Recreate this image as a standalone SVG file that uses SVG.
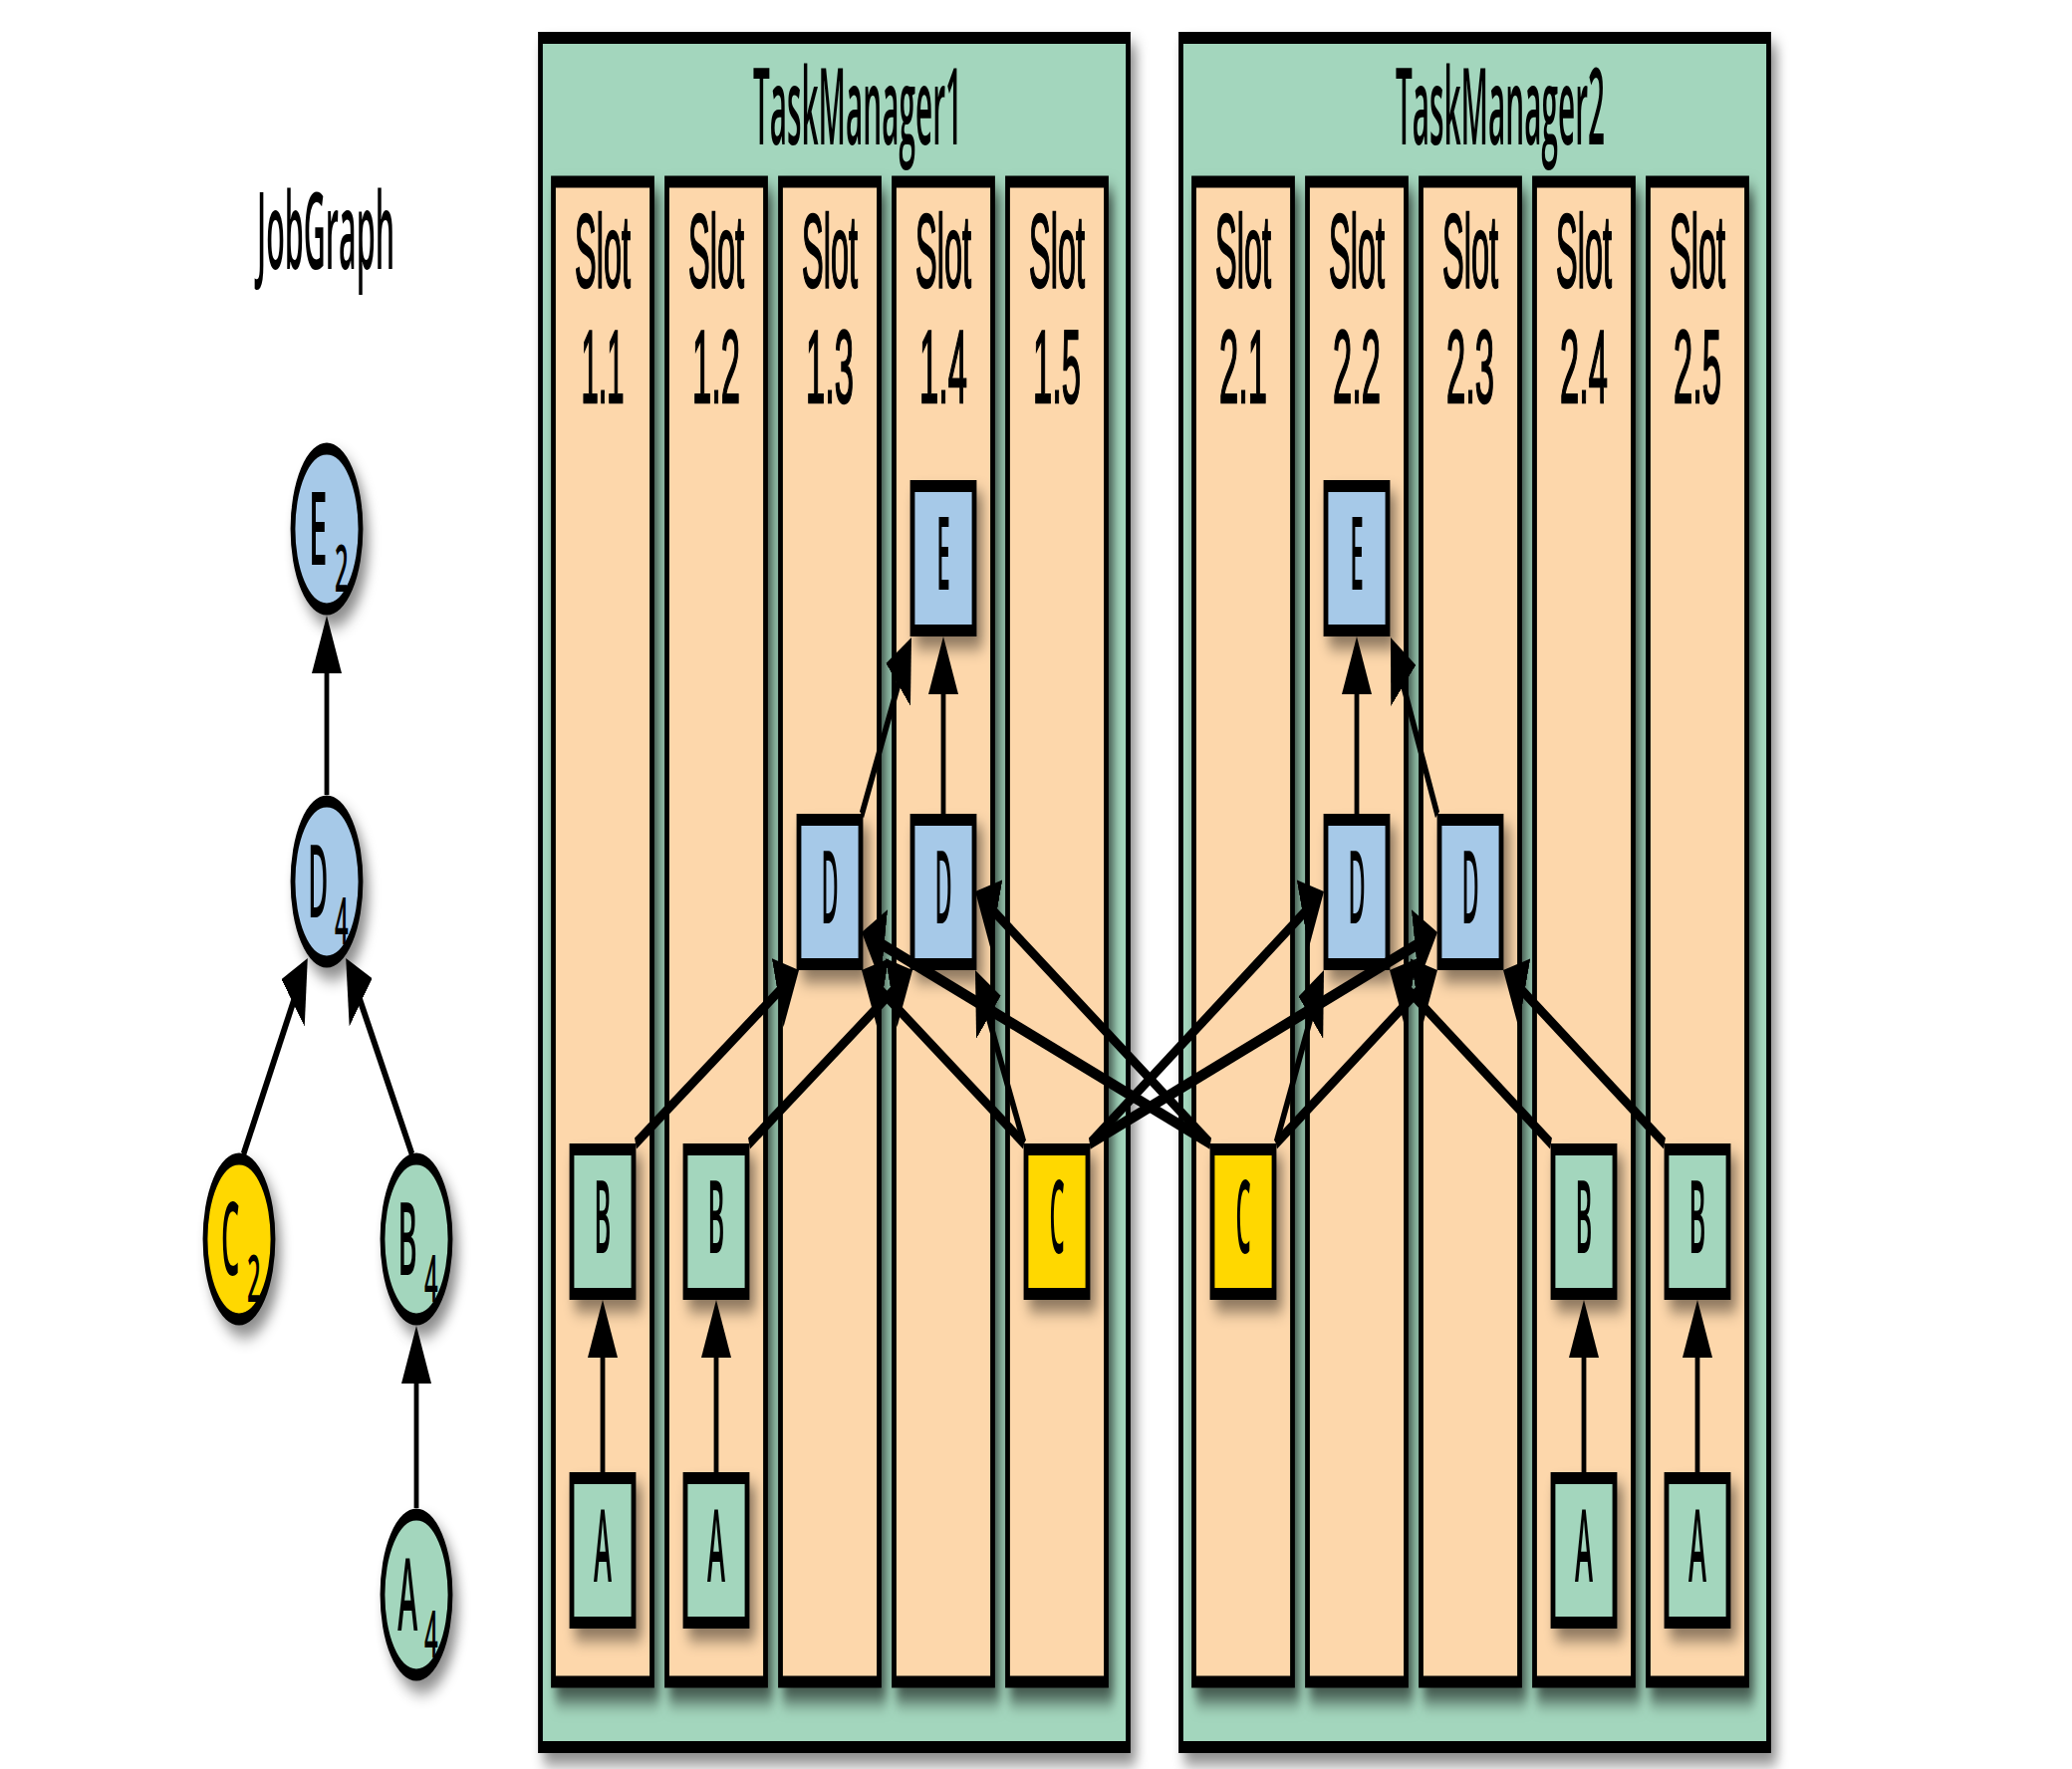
<svg xmlns="http://www.w3.org/2000/svg" width="2080" height="1776" viewBox="0 0 2080 1776">
<defs>
<style>
.tm{fill:#a3d6bd;stroke:#000;stroke-width:12}
.slot{fill:#fdd7ab;stroke:#000;stroke-width:12}
.nb{fill:#a6c9e8;stroke:#000;stroke-width:12}
.ng{fill:#a3d6bd;stroke:#000;stroke-width:12}
.ny{fill:#ffd800;stroke:#000;stroke-width:12}
.sh{filter:url(#sh)}
.sh2{filter:url(#sh2)}
text{font-family:"Open Sans","Liberation Sans",sans-serif;font-weight:600;fill:#000;text-anchor:middle}
.t{font-size:107px}
.sl{font-family:"Liberation Sans",Arial,sans-serif;font-weight:400;font-size:104px;stroke:#000;stroke-width:2.5}
.l{font-size:102px}
.s{font-size:66px}
.e{fill:none;stroke:#000;stroke-width:12;marker-end:url(#ah)}
</style>
<filter id="sh" x="-50%" y="-20%" width="200%" height="150%">
<feDropShadow dx="14" dy="12" stdDeviation="14 8" flood-color="#000" flood-opacity="0.45"/>
</filter>
<filter id="sh2" x="-50%" y="-20%" width="200%" height="150%">
<feDropShadow dx="12" dy="14" stdDeviation="12 9" flood-color="#000" flood-opacity="0.6"/>
</filter>
<marker id="ah" viewBox="0 -37.5 58 75" refX="18" refY="0" markerWidth="58" markerHeight="75" markerUnits="userSpaceOnUse" orient="auto">
<path d="M0,-37.5 L58,0 L0,37.5 z" fill="#000"/>
</marker>
</defs>
<rect width="2080" height="1776" fill="#fff"/>
<g transform="scale(0.4,1)">
<text class="t" x="817.5" y="270" textLength="345" lengthAdjust="spacingAndGlyphs">JobGraph</text>

<g id="tm1">
<rect class="tm sh" x="1356.25" y="38" width="1475" height="1716"/>
<text class="t" x="2152.5" y="145" textLength="525" lengthAdjust="spacingAndGlyphs">TaskManager1</text>
<g id="slot1-1"><rect class="slot sh2" x="1388.75" y="182.5" width="247.5" height="1506"/><text class="sl" x="1512.5" y="288" textLength="140" lengthAdjust="spacingAndGlyphs">Slot</text><text class="sl" x="1512.5" y="404" textLength="108" lengthAdjust="spacingAndGlyphs">1.1</text></g>
<g id="slot1-2"><rect class="slot sh2" x="1673.75" y="182.5" width="247.5" height="1506"/><text class="sl" x="1797.5" y="288" textLength="140" lengthAdjust="spacingAndGlyphs">Slot</text><text class="sl" x="1797.5" y="404" textLength="120" lengthAdjust="spacingAndGlyphs">1.2</text></g>
<g id="slot1-3"><rect class="slot sh2" x="1958.75" y="182.5" width="247.5" height="1506"/><text class="sl" x="2082.5" y="288" textLength="140" lengthAdjust="spacingAndGlyphs">Slot</text><text class="sl" x="2082.5" y="404" textLength="120" lengthAdjust="spacingAndGlyphs">1.3</text></g>
<g id="slot1-4"><rect class="slot sh2" x="2243.75" y="182.5" width="247.5" height="1506"/><text class="sl" x="2367.5" y="288" textLength="140" lengthAdjust="spacingAndGlyphs">Slot</text><text class="sl" x="2367.5" y="404" textLength="120" lengthAdjust="spacingAndGlyphs">1.4</text></g>
<g id="slot1-5"><rect class="slot sh2" x="2528.75" y="182.5" width="247.5" height="1506"/><text class="sl" x="2652.5" y="288" textLength="140" lengthAdjust="spacingAndGlyphs">Slot</text><text class="sl" x="2652.5" y="404" textLength="120" lengthAdjust="spacingAndGlyphs">1.5</text></g>
</g>

<g id="tm2">
<rect class="tm sh" x="2963.75" y="38" width="1475" height="1716"/>
<text class="t" x="3765" y="145" textLength="525" lengthAdjust="spacingAndGlyphs">TaskManager2</text>
<g id="slot2-1"><rect class="slot sh2" x="2996.25" y="182.5" width="247.5" height="1506"/><text class="sl" x="3120" y="288" textLength="140" lengthAdjust="spacingAndGlyphs">Slot</text><text class="sl" x="3120" y="404" textLength="120" lengthAdjust="spacingAndGlyphs">2.1</text></g>
<g id="slot2-2"><rect class="slot sh2" x="3281.25" y="182.5" width="247.5" height="1506"/><text class="sl" x="3405" y="288" textLength="140" lengthAdjust="spacingAndGlyphs">Slot</text><text class="sl" x="3405" y="404" textLength="120" lengthAdjust="spacingAndGlyphs">2.2</text></g>
<g id="slot2-3"><rect class="slot sh2" x="3566.25" y="182.5" width="247.5" height="1506"/><text class="sl" x="3690" y="288" textLength="140" lengthAdjust="spacingAndGlyphs">Slot</text><text class="sl" x="3690" y="404" textLength="120" lengthAdjust="spacingAndGlyphs">2.3</text></g>
<g id="slot2-4"><rect class="slot sh2" x="3851.25" y="182.5" width="247.5" height="1506"/><text class="sl" x="3975" y="288" textLength="140" lengthAdjust="spacingAndGlyphs">Slot</text><text class="sl" x="3975" y="404" textLength="120" lengthAdjust="spacingAndGlyphs">2.4</text></g>
<g id="slot2-5"><rect class="slot sh2" x="4136.25" y="182.5" width="247.5" height="1506"/><text class="sl" x="4260" y="288" textLength="140" lengthAdjust="spacingAndGlyphs">Slot</text><text class="sl" x="4260" y="404" textLength="120" lengthAdjust="spacingAndGlyphs">2.5</text></g>
</g>

<g id="jg-E2"><ellipse class="nb sh" cx="820" cy="531" rx="85" ry="80.5"/><text class="l" x="798" y="567" textLength="46" lengthAdjust="spacingAndGlyphs">E</text><text class="s" x="857" y="594" textLength="34" lengthAdjust="spacingAndGlyphs">2</text></g>
<g id="jg-D4"><ellipse class="nb sh" cx="820" cy="885" rx="85" ry="80.5"/><text class="l" x="798" y="921" textLength="50" lengthAdjust="spacingAndGlyphs">D</text><text class="s" x="857" y="948" textLength="34" lengthAdjust="spacingAndGlyphs">4</text></g>
<g id="jg-C2"><ellipse class="ny sh" cx="600" cy="1244" rx="85" ry="80.5"/><text class="l" x="578" y="1280" textLength="46" lengthAdjust="spacingAndGlyphs">C</text><text class="s" x="637" y="1307" textLength="34" lengthAdjust="spacingAndGlyphs">2</text></g>
<g id="jg-B4"><ellipse class="ng sh" cx="1045" cy="1244" rx="85" ry="80.5"/><text class="l" x="1023" y="1280" textLength="48" lengthAdjust="spacingAndGlyphs">B</text><text class="s" x="1082" y="1307" textLength="34" lengthAdjust="spacingAndGlyphs">4</text></g>
<g id="jg-A4"><ellipse class="ng sh" cx="1045" cy="1601" rx="85" ry="80.5"/><text class="l" x="1023" y="1637" textLength="50" lengthAdjust="spacingAndGlyphs">A</text><text class="s" x="1082" y="1664" textLength="34" lengthAdjust="spacingAndGlyphs">4</text></g>

<g id="E-1-4"><rect class="nb sh" x="2290" y="488" width="155" height="145"/><text class="l" x="2367.5" y="592" textLength="34" lengthAdjust="spacingAndGlyphs">E</text></g>
<g id="E-2-2"><rect class="nb sh" x="3327.5" y="488" width="155" height="145"/><text class="l" x="3405" y="592" textLength="34" lengthAdjust="spacingAndGlyphs">E</text></g>
<g id="D-1-3"><rect class="nb sh" x="2005" y="823" width="155" height="145"/><text class="l" x="2082.5" y="927" textLength="43" lengthAdjust="spacingAndGlyphs">D</text></g>
<g id="D-1-4"><rect class="nb sh" x="2290" y="823" width="155" height="145"/><text class="l" x="2367.5" y="927" textLength="43" lengthAdjust="spacingAndGlyphs">D</text></g>
<g id="D-2-2"><rect class="nb sh" x="3327.5" y="823" width="155" height="145"/><text class="l" x="3405" y="927" textLength="43" lengthAdjust="spacingAndGlyphs">D</text></g>
<g id="D-2-3"><rect class="nb sh" x="3612.5" y="823" width="155" height="145"/><text class="l" x="3690" y="927" textLength="43" lengthAdjust="spacingAndGlyphs">D</text></g>
<g id="B-1-1"><rect class="ng sh" x="1435" y="1154" width="155" height="145"/><text class="l" x="1512.5" y="1258" textLength="42" lengthAdjust="spacingAndGlyphs">B</text></g>
<g id="B-1-2"><rect class="ng sh" x="1720" y="1154" width="155" height="145"/><text class="l" x="1797.5" y="1258" textLength="42" lengthAdjust="spacingAndGlyphs">B</text></g>
<g id="C-1-5"><rect class="ny sh" x="2575" y="1154" width="155" height="145"/><text class="l" x="2652.5" y="1258" textLength="38" lengthAdjust="spacingAndGlyphs">C</text></g>
<g id="C-2-1"><rect class="ny sh" x="3042.5" y="1154" width="155" height="145"/><text class="l" x="3120" y="1258" textLength="38" lengthAdjust="spacingAndGlyphs">C</text></g>
<g id="B-2-4"><rect class="ng sh" x="3897.5" y="1154" width="155" height="145"/><text class="l" x="3975" y="1258" textLength="42" lengthAdjust="spacingAndGlyphs">B</text></g>
<g id="B-2-5"><rect class="ng sh" x="4182.5" y="1154" width="155" height="145"/><text class="l" x="4260" y="1258" textLength="42" lengthAdjust="spacingAndGlyphs">B</text></g>
<g id="A-1-1"><rect class="ng sh" x="1435" y="1484" width="155" height="145"/><text class="l" x="1512.5" y="1588" textLength="45" lengthAdjust="spacingAndGlyphs">A</text></g>
<g id="A-1-2"><rect class="ng sh" x="1720" y="1484" width="155" height="145"/><text class="l" x="1797.5" y="1588" textLength="45" lengthAdjust="spacingAndGlyphs">A</text></g>
<g id="A-2-4"><rect class="ng sh" x="3897.5" y="1484" width="155" height="145"/><text class="l" x="3975" y="1588" textLength="45" lengthAdjust="spacingAndGlyphs">A</text></g>
<g id="A-2-5"><rect class="ng sh" x="4182.5" y="1484" width="155" height="145"/><text class="l" x="4260" y="1588" textLength="45" lengthAdjust="spacingAndGlyphs">A</text></g>

<g id="connectors">
<line class="e" x1="820" y1="798" x2="820" y2="658"/>
<line class="e" x1="1045" y1="1514" x2="1045" y2="1371"/>
<line class="e" x1="610" y1="1160" x2="746.7" y2="993"/>
<line class="e" x1="1035" y1="1160" x2="893.8" y2="992.6"/>
<line class="e" x1="1512.5" y1="1478" x2="1512.5" y2="1345"/>
<line class="e" x1="1797.5" y1="1478" x2="1797.5" y2="1345"/>
<line class="e" x1="3975" y1="1478" x2="3975" y2="1345"/>
<line class="e" x1="4260" y1="1478" x2="4260" y2="1345"/>
<line class="e" x1="2367.5" y1="817" x2="2367.5" y2="679"/>
<line class="e" x1="3405" y1="817" x2="3405" y2="679"/>
<line class="e" x1="2162.5" y1="818" x2="2264.5" y2="672.7"/>
<line class="e" x1="3607.5" y1="818" x2="3512" y2="673.4"/>
<line class="e" x1="1595" y1="1148" x2="1968.2" y2="989.6"/>
<line class="e" x1="1880" y1="1148" x2="2253.2" y2="989.6"/>
<line class="e" x1="3892.5" y1="1148" x2="3524.3" y2="989.8"/>
<line class="e" x1="4177.5" y1="1148" x2="3809.3" y2="989.8"/>
<line class="e" x1="2570" y1="1148" x2="2199.3" y2="989.7"/>
<line class="e" x1="2570" y1="1148" x2="2470.5" y2="1006.7"/>
<line class="e" x1="2735" y1="1148" x2="3285.8" y2="910.8"/>
<line class="e" x1="2735" y1="1148" x2="3568.6" y2="945.4"/>
<line class="e" x1="3202.5" y1="1148" x2="3299.8" y2="1006.9"/>
<line class="e" x1="3202.5" y1="1148" x2="3570.7" y2="989.8"/>
<line class="e" x1="3037.5" y1="1148" x2="2484.3" y2="910.8"/>
<line class="e" x1="3037.5" y1="1148" x2="2201.4" y2="945.4"/>
</g>
</g>
</svg>
